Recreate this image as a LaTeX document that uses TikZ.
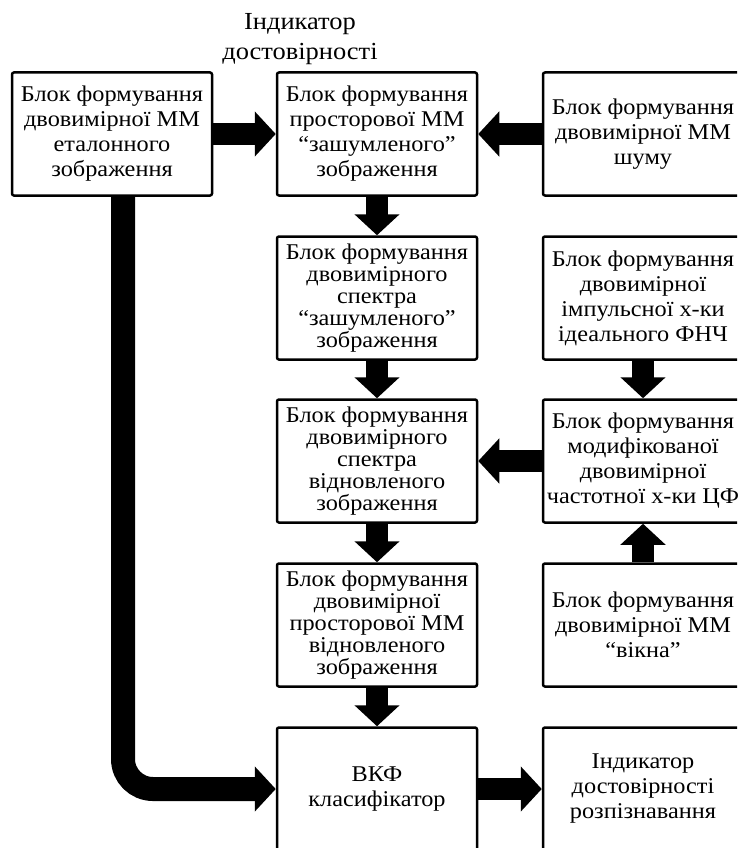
\documentclass[tikz,border=0pt]{standalone}
\usepackage{fontspec}
\setmainfont[FakeStretch=1.08]{Liberation Serif}
\usetikzlibrary{arrows.meta}

\begin{document}
\begin{tikzpicture}[x=1pt,y=-1pt,
    blk/.style={draw,line width=2.5pt,rounded corners=2pt,minimum width=200pt,minimum height=123pt,
      inner sep=0pt,align=center,font=\fontsize{22.5}{25}\selectfont},
    blkv/.style={blk,font=\fontsize{22.5}{22}\selectfont},
    fat/.style={line width=22pt,-{Triangle[length=21pt,width=44pt]}}]
    \useasboundingbox (0,0) rectangle (737,848);
    \clip (0,0) rectangle (737,848);

    \node[align=center,font=\fontsize{24.5}{30}\selectfont] (T) at (300,39) {Індикатор\\достовірності};

    \node[blk] (A) at (112,134) {Блок формування\\двовимірної ММ\\еталонного\\зображення};
    \node[blk] (B) at (377,134) {Блок формування\\просторової ММ\\“зашумленого”\\зображення};
    \node[blk] (C) at (643,134) {Блок формування\\двовимірної ММ\\шуму};
    \node[blkv] (D) at (377,298) {Блок формування\\двовимірного\\спектра\\“зашумленого”\\зображення};
    \node[blk] (E) at (643,298) {Блок формування\\двовимірної\\імпульсної х-ки\\ідеального ФНЧ};
    \node[blkv] (F) at (377,461) {Блок формування\\двовимірного\\спектра\\відновленого\\зображення};
    \node[blk] (G) at (643,461) {Блок формування\\модифікованої\\двовимірної\\частотної х-ки ЦФ};
    \node[blkv] (H) at (377,625) {Блок формування\\двовимірної\\просторової ММ\\відновленого\\зображення};
    \node[blk] (I) at (643,625) {Блок формування\\двовимірної ММ\\“вікна”};
    \node[blk] (J) at (377,789) {ВКФ\\класифікатор};
    \node[blk] (K) at (643,789) {Індикатор\\достовірності\\розпізнавання};

    \foreach \from/\to in {A/B, C/B, B/D, D/F, E/G, I/G, G/F, F/H, H/J, J/K}
      \draw[fat] (\from) -- (\to);

    \draw[fat,line width=24pt,rounded corners=30pt] ([xshift=11pt]A.south) |- (J);
  \end{tikzpicture}
\end{document}
